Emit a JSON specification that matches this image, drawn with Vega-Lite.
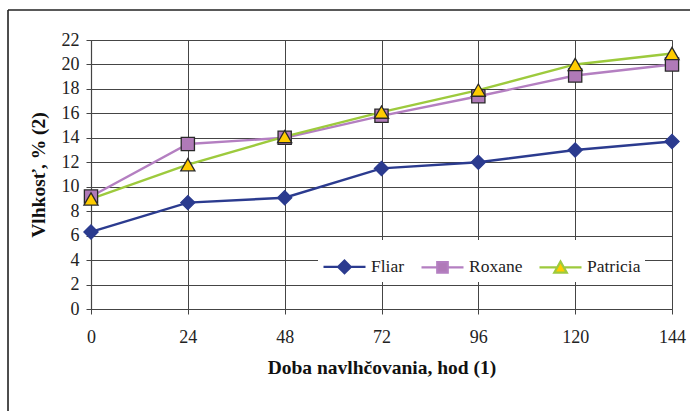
{
  "$schema": "https://vega.github.io/schema/vega-lite/v6.json",
  "width": 581,
  "height": 269,
  "autosize": "none",
  "padding": {"left": 91, "top": 40, "right": 18, "bottom": 102},
  "background": "white",
  "config": {
    "font": "Liberation Serif",
    "view": {"stroke": "#9a9a9a", "strokeWidth": 1},
    "axis": {
      "labelFont": "Liberation Serif",
      "labelFontSize": 18,
      "labelColor": "#222",
      "labelOverlap": false,
      "titleFont": "Liberation Serif",
      "titleFontSize": 19.5,
      "titleFontWeight": "bold",
      "titleColor": "#111",
      "domainColor": "#444",
      "domainWidth": 1.2,
      "tickColor": "#444",
      "tickSize": 5,
      "gridColor": "#454545",
      "gridWidth": 1,
      "gridOpacity": 1
    }
  },
  "datasets": {
    "moisture": [
      {"hour": 0, "value": 6.3, "variety": "Fliar"},
      {"hour": 24, "value": 8.7, "variety": "Fliar"},
      {"hour": 48, "value": 9.1, "variety": "Fliar"},
      {"hour": 72, "value": 11.5, "variety": "Fliar"},
      {"hour": 96, "value": 12.0, "variety": "Fliar"},
      {"hour": 120, "value": 13.0, "variety": "Fliar"},
      {"hour": 144, "value": 13.7, "variety": "Fliar"},
      {"hour": 0, "value": 9.2, "variety": "Roxane"},
      {"hour": 24, "value": 13.5, "variety": "Roxane"},
      {"hour": 48, "value": 14.0, "variety": "Roxane"},
      {"hour": 72, "value": 15.8, "variety": "Roxane"},
      {"hour": 96, "value": 17.4, "variety": "Roxane"},
      {"hour": 120, "value": 19.1, "variety": "Roxane"},
      {"hour": 144, "value": 20.0, "variety": "Roxane"},
      {"hour": 0, "value": 9.0, "variety": "Patricia"},
      {"hour": 24, "value": 11.8, "variety": "Patricia"},
      {"hour": 48, "value": 14.1, "variety": "Patricia"},
      {"hour": 72, "value": 16.1, "variety": "Patricia"},
      {"hour": 96, "value": 17.9, "variety": "Patricia"},
      {"hour": 120, "value": 20.0, "variety": "Patricia"},
      {"hour": 144, "value": 20.9, "variety": "Patricia"}
    ]
  },
  "layer": [
    {
      "data": {"name": "moisture"},
      "mark": {"type": "line", "strokeWidth": 2.4},
      "encoding": {
        "x": {
          "field": "hour",
          "type": "quantitative",
          "scale": {"domain": [0, 144], "nice": false, "zero": false},
          "axis": {
            "values": [0, 24, 48, 72, 96, 120, 144],
            "tickCount": 20,
            "title": "Doba navlhčovania, hod (1)",
            "grid": true,
            "labelPadding": 14,
            "titlePadding": 12,
            "labelFlush": false
          }
        },
        "y": {
          "field": "value",
          "type": "quantitative",
          "scale": {"domain": [0, 22], "nice": false},
          "axis": {
            "values": [0, 2, 4, 6, 8, 10, 12, 14, 16, 18, 20, 22],
            "tickCount": 20,
            "title": "Vlhkosť, % (2)",
            "grid": true,
            "labelPadding": 7,
            "titlePadding": 13
          }
        },
        "color": {
          "field": "variety",
          "type": "nominal",
          "scale": {"domain": ["Fliar", "Roxane", "Patricia"], "range": ["#2b3b8f", "#b47fc1", "#9dca3d"]},
          "legend": {
            "title": null,
            "orient": "bottom-right",
            "direction": "horizontal",
            "offset": 27,
            "fillColor": "white",
            "padding": 4,
            "symbolSize": 1764,
            "symbolStrokeWidth": 2.2,
            "columnPadding": 12,
            "labelOffset": 4,
            "labelFont": "Liberation Serif",
            "labelFontSize": 17.5,
            "labelColor": "#222",
            "encode": {
              "symbols": {
                "update": {
                  "shape": {"signal": "datum.value === 'Fliar' ? 'M-1,0H-0.3M0.3,0H1M-0.3,0L0,-0.3L0.3,0L0,0.3Z' : datum.value === 'Roxane' ? 'M-1,0H-0.25M0.25,0H1M-0.25,-0.25H0.25V0.25H-0.25Z' : 'M-1,0H-0.15M0.15,0H1M-0.3,0.25L0,-0.28L0.3,0.25Z'"},
                  "fill": {"signal": "datum.value === 'Fliar' ? '#2b3b8f' : datum.value === 'Roxane' ? '#b07ab8' : '#ffcc00'"},
                  "stroke": {"signal": "scale('color', datum.value)"},
                  "strokeWidth": {"value": 2.2},
                  "opacity": {"value": 1}
                }
              }
            }
          }
        }
      }
    },
    {
      "data": {"name": "moisture"},
      "mark": {"type": "point", "filled": true, "strokeWidth": 1.3, "opacity": 1},
      "encoding": {
        "x": {"field": "hour", "type": "quantitative"},
        "y": {"field": "value", "type": "quantitative"},
        "size": {
          "condition": {"test": "datum.variety === 'Roxane'", "value": 175},
          "value": 200
        },
        "stroke": {
          "condition": {"test": "datum.variety === 'Fliar'", "value": "#2b3b8f"},
          "value": "#2a2a2a"
        },
        "shape": {
          "condition": [
            {"test": "datum.variety === 'Fliar'", "value": "diamond"},
            {"test": "datum.variety === 'Roxane'", "value": "square"}
          ],
          "value": "triangle-up"
        },
        "fill": {
          "condition": [
            {"test": "datum.variety === 'Fliar'", "value": "#2b3b8f"},
            {"test": "datum.variety === 'Roxane'", "value": "#b07ab8"}
          ],
          "value": "#ffcc00"
        }
      }
    },
    {
      "data": {"values": [{}]},
      "mark": {"type": "rule", "clip": false, "color": "#222", "strokeWidth": 1.6},
      "encoding": {
        "x": {"datum": -20.57, "type": "quantitative"},
        "y": {"datum": 24.45, "type": "quantitative"},
        "y2": {"datum": -10}
      }
    },
    {
      "data": {"values": [{}]},
      "mark": {"type": "rule", "clip": false, "color": "#222", "strokeWidth": 1.6},
      "encoding": {
        "x": {"datum": -20.57, "type": "quantitative"},
        "x2": {"datum": 170},
        "y": {"datum": 24.45, "type": "quantitative"}
      }
    }
  ]
}
